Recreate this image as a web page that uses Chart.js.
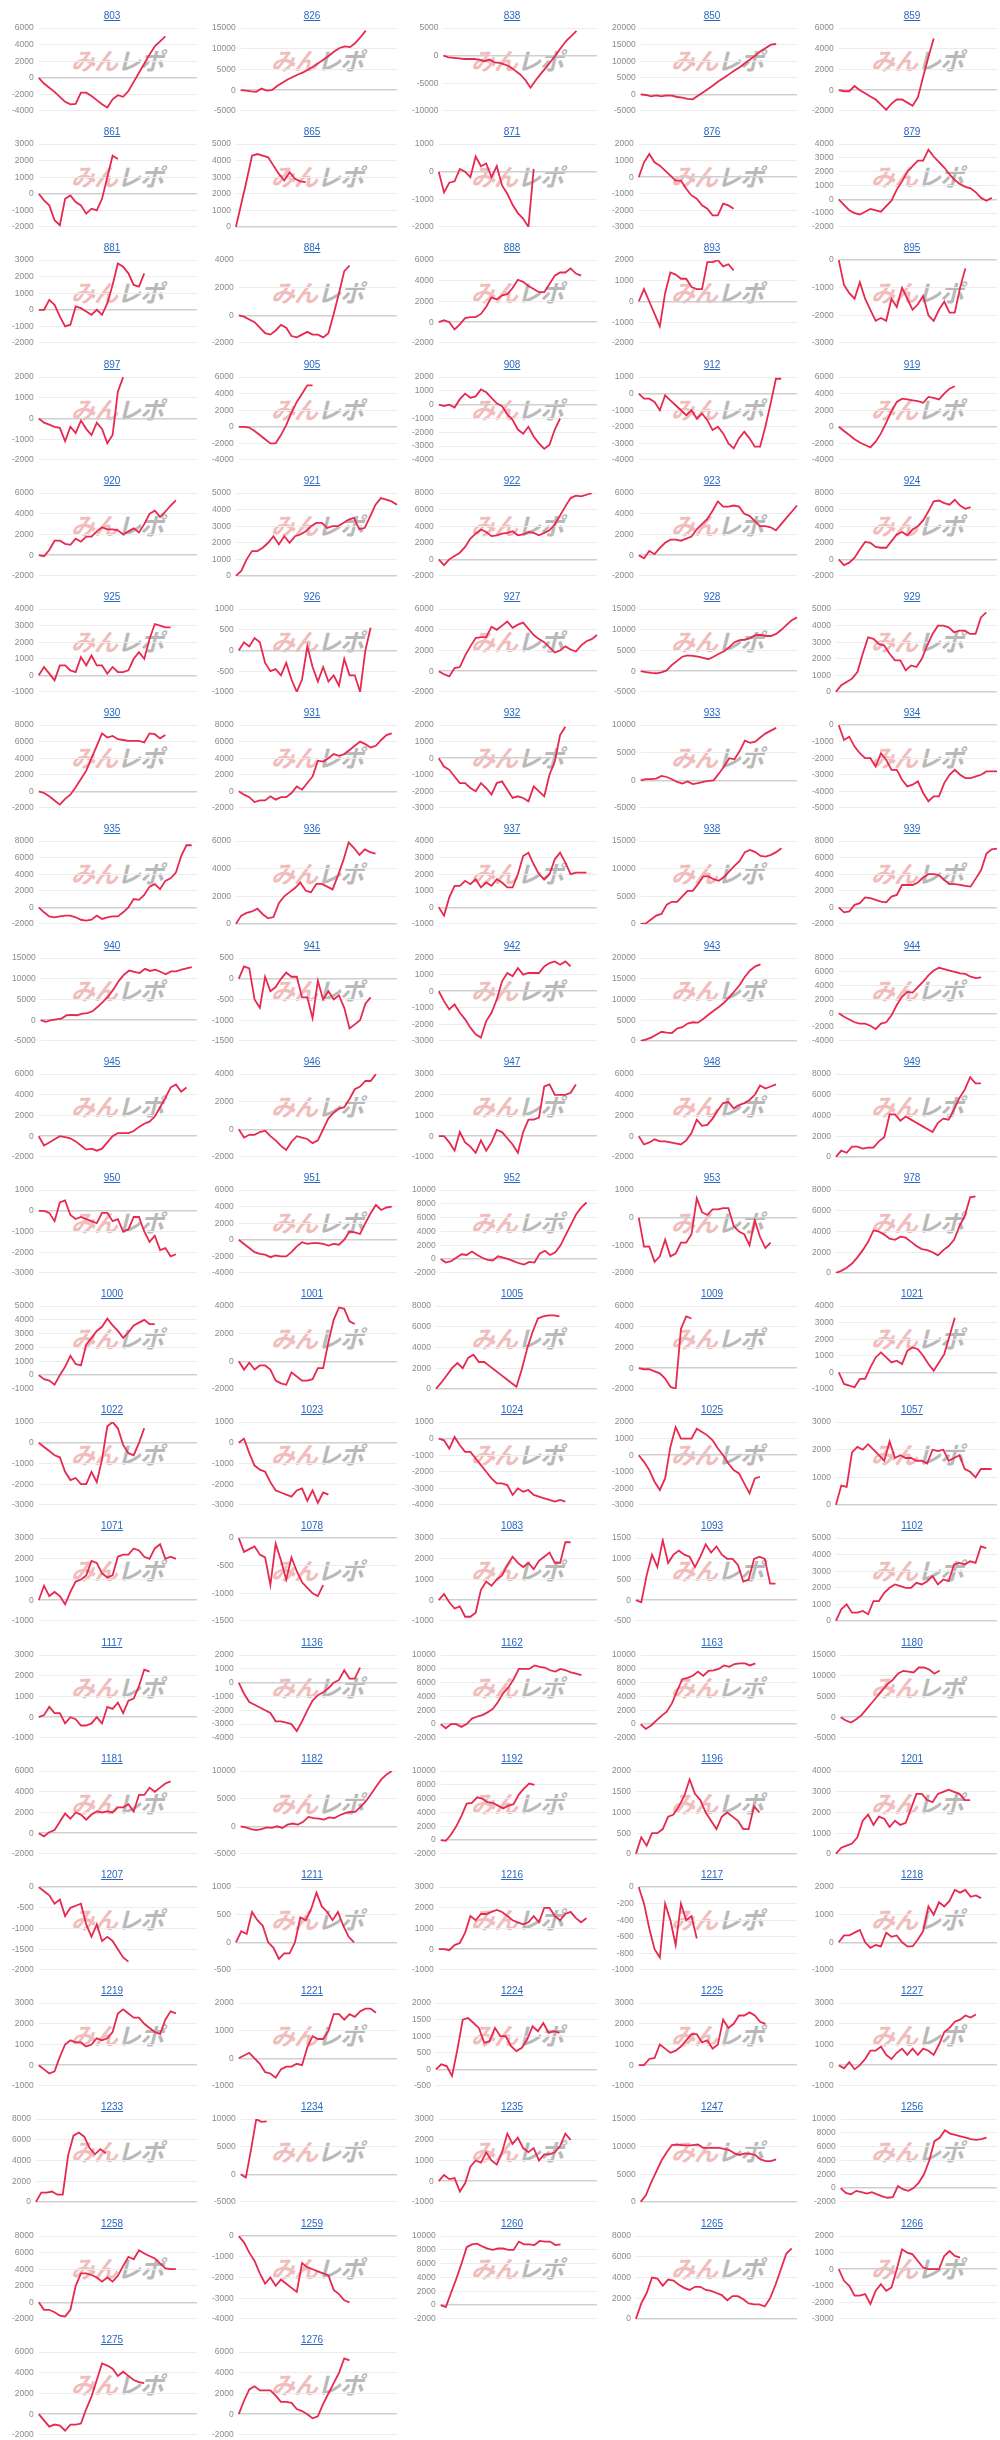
<!DOCTYPE html>
<html>
<head>
<meta charset="utf-8">
<script src="https://cdn.jsdelivr.net/npm/chart.js@4.4.0/dist/chart.umd.min.js"></script>
<style>
  body { margin: 0; background: #fff; font-family: "Liberation Sans", Arial, sans-serif; }
  #grid { display: grid; grid-template-columns: repeat(5, 200px); grid-auto-rows: calc(2440px / 21); width: 1000px; height: 2440px; overflow: hidden; }
  .cell { position: relative; }
  .cell a { position: absolute; top: 10px; left: 24px; right: 0; text-align: center; font-size: 10px; line-height: 12px; color: #2a67c0; text-decoration: underline; z-index: 2; }
  .mark { position: absolute; left: 71px; top: 47px; font: italic bold 24px "Noto Sans CJK JP", sans-serif; line-height: 26px; letter-spacing: -1px; white-space: nowrap; }
  .mark .p { color: #f1bcbc; }
  .mark .g { color: #b9b9b9; }
  .cell canvas { position: absolute; left: 0; top: 18px; z-index: 1; }
</style>
</head>
<body>
<div id="grid"></div>
<script>
// machine numbers, in reading order (5 per row)
const machines = [
  '803', '826', '838', '850', '859',
  '861', '865', '871', '876', '879',
  '881', '884', '888', '893', '895',
  '897', '905', '908', '912', '919',
  '920', '921', '922', '923', '924',
  '925', '926', '927', '928', '929',
  '930', '931', '932', '933', '934',
  '935', '936', '937', '938', '939',
  '940', '941', '942', '943', '944',
  '945', '946', '947', '948', '949',
  '950', '951', '952', '953', '978',
  '1000', '1001', '1005', '1009', '1021',
  '1022', '1023', '1024', '1025', '1057',
  '1071', '1078', '1083', '1093', '1102',
  '1117', '1136', '1162', '1163', '1180',
  '1181', '1182', '1192', '1196', '1201',
  '1207', '1211', '1216', '1217', '1218',
  '1219', '1221', '1224', '1225', '1227',
  '1233', '1234', '1235', '1247', '1256',
  '1258', '1259', '1260', '1265', '1266',
  '1275', '1276'
];

// y axis tick ranges per chart
const yMin = [
  -4000, -5000, -10000, -5000, -2000,
  -2000, 0, -2000, -3000, -2000,
  -2000, -2000, -2000, -2000, -3000,
  -2000, -4000, -4000, -4000, -4000,
  -2000, 0, -2000, -2000, -2000,
  -1000, -1000, -2000, -5000, 0,
  -2000, -2000, -3000, -5000, -5000,
  -2000, 0, -1000, 0, -2000,
  -5000, -1500, -3000, 0, -4000,
  -2000, -2000, -1000, -2000, 0,
  -3000, -4000, -2000, -2000, 0,
  -1000, -2000, 0, -2000, -1000,
  -3000, -3000, -4000, -3000, 0,
  -1000, -1500, -1000, -500, 0,
  -1000, -4000, -2000, -2000, -5000,
  -2000, -5000, -2000, 0, 0,
  -2000, -500, -1000, -1000, -1000,
  -1000, -1000, -500, -1000, -1000,
  0, -5000, -1000, 0, -2000,
  -2000, -4000, -2000, 0, -3000,
  -2000, -2000
];
const yMax = [
  6000, 15000, 5000, 20000, 6000,
  3000, 5000, 1000, 2000, 4000,
  3000, 4000, 6000, 2000, 0,
  2000, 6000, 2000, 1000, 6000,
  6000, 5000, 8000, 6000, 8000,
  4000, 1000, 6000, 15000, 5000,
  8000, 8000, 2000, 10000, 0,
  8000, 6000, 4000, 15000, 8000,
  15000, 500, 2000, 20000, 8000,
  6000, 4000, 3000, 6000, 8000,
  1000, 6000, 10000, 1000, 8000,
  5000, 4000, 8000, 6000, 4000,
  1000, 1000, 1000, 2000, 3000,
  3000, 0, 3000, 1500, 5000,
  3000, 2000, 10000, 10000, 15000,
  6000, 10000, 10000, 2000, 4000,
  0, 1000, 3000, 0, 2000,
  3000, 2000, 2000, 3000, 3000,
  8000, 10000, 3000, 15000, 10000,
  8000, 0, 10000, 8000, 2000,
  6000, 6000
];
const yStep = [
  2000, 5000, 5000, 5000, 2000,
  1000, 1000, 1000, 1000, 1000,
  1000, 2000, 2000, 1000, 1000,
  1000, 2000, 1000, 1000, 2000,
  2000, 1000, 2000, 2000, 2000,
  1000, 500, 2000, 5000, 1000,
  2000, 2000, 1000, 5000, 1000,
  2000, 2000, 1000, 5000, 2000,
  5000, 500, 1000, 5000, 2000,
  2000, 2000, 1000, 2000, 2000,
  1000, 2000, 2000, 1000, 2000,
  1000, 2000, 2000, 2000, 1000,
  1000, 1000, 1000, 1000, 1000,
  1000, 500, 1000, 500, 1000,
  1000, 1000, 2000, 2000, 5000,
  2000, 5000, 2000, 500, 1000,
  500, 500, 1000, 200, 1000,
  1000, 1000, 500, 1000, 1000,
  2000, 5000, 1000, 5000, 2000,
  2000, 1000, 2000, 2000, 1000,
  2000, 2000
];

// days of the month (x axis, hidden)
const days = ['1', '2', '3', '4', '5', '6', '7', '8', '9', '10', '11', '12', '13', '14', '15', '16',
  '17', '18', '19', '20', '21', '22', '23', '24', '25', '26', '27', '28', '29', '30', '31'];

// cumulative difference per machine
const d803 = [0, -700, -1200, -1700, -2300, -2900, -3200, -3150, -1800, -1800, -2200, -2700, -3200, -3600, -2600, -2100, -2300, -1600, -500, 600, 1700, 2800, 3800, 4400, 5000];
const d826 = [0, -100, -300, -400, 400, -100, 0, 1000, 1800, 2600, 3200, 3800, 4300, 5000, 5800, 6600, 7500, 8400, 9400, 10200, 10600, 10400, 11400, 12800, 14400];
const d838 = [0, -300, -400, -500, -600, -600, -600, -700, -1000, -700, -1200, -1300, -1600, -2000, -2700, -3400, -4400, -5800, -4500, -3300, -2200, -1000, 200, 1500, 2700, 3600, 4500];
const d850 = [0, -200, -600, -300, -600, -300, -400, -800, -1000, -1400, -1500, -400, 600, 1700, 2800, 4000, 5000, 6100, 7200, 8200, 9400, 10500, 11700, 13000, 14000, 15000, 15200];
const d859 = [0, -100, -100, 400, 0, -300, -600, -900, -1400, -1900, -1300, -900, -900, -1200, -1500, -700, 1300, 3200, 5000];
const d861 = [0, -400, -700, -1600, -1900, -300, -100, -500, -700, -1200, -900, -1000, -300, 1000, 2300, 2100];
const d865 = [0, 1400, 2800, 4300, 4400, 4300, 4200, 3700, 3200, 2800, 3300, 2900, 2750, 2700];
const d871 = [0, -750, -400, -350, 100, 0, -200, 550, 200, 300, -200, 200, -500, -800, -1200, -1500, -1700, -2000, 100];
const d876 = [0, 900, 1400, 900, 700, 400, 100, -200, -200, -700, -1100, -1300, -1700, -1900, -2300, -2300, -1600, -1700, -1900];
const d879 = [0, -400, -800, -1000, -1100, -900, -700, -800, -900, -500, -100, 700, 1300, 2000, 2400, 2800, 2800, 3600, 3100, 2700, 2300, 1800, 1400, 1100, 900, 800, 500, 100, -100, 100];
const d881 = [0, 0, 600, 300, -400, -1000, -900, 200, 100, -100, -300, 0, -300, 400, 1500, 2800, 2600, 2200, 1500, 1400, 2200];
const d884 = [0, -100, -300, -500, -900, -1300, -1400, -1100, -700, -900, -1500, -1600, -1400, -1200, -1400, -1400, -1600, -1300, 100, 1600, 3200, 3600];
const d888 = [0, 200, 0, -700, -200, 400, 500, 500, 800, 1500, 2400, 2200, 2600, 2700, 3300, 4100, 3900, 3500, 3200, 2900, 2900, 3700, 4500, 4800, 4800, 5200, 4700, 4500];
const d893 = [0, 600, 0, -600, -1200, 400, 1400, 1300, 1100, 1100, 700, 600, 600, 1900, 1900, 2000, 1700, 1800, 1500];
const d895 = [0, -900, -1200, -1400, -800, -1400, -1800, -2200, -2100, -2200, -1400, -1700, -1000, -1400, -1800, -1600, -1300, -2000, -2200, -1800, -1500, -1900, -1900, -1000, -300];
const d897 = [0, -200, -300, -400, -450, -1100, -400, -700, -100, -500, -800, -200, -500, -1200, -800, 1300, 2000];
const d905 = [0, 0, -100, -500, -1000, -1500, -2000, -2000, -1000, 200, 1700, 3000, 4000, 5000, 5000];
const d908 = [0, -100, 0, -200, 400, 800, 500, 600, 1100, 900, 500, 100, -100, -700, -1100, -1800, -2100, -1600, -2300, -2800, -3200, -2900, -1800, -1000];
const d912 = [0, -300, -300, -500, -1000, -100, -400, -700, -1000, -1300, -1000, -1500, -1200, -1600, -2200, -2000, -2400, -3000, -3300, -2700, -2300, -2700, -3200, -3200, -2000, -600, 900, 900];
const d919 = [0, -500, -1000, -1500, -1900, -2200, -2500, -1800, -800, 500, 1900, 3000, 3400, 3300, 3200, 3100, 2900, 3600, 3500, 3300, 4000, 4600, 4900];
const d920 = [0, -100, 500, 1400, 1400, 1100, 1000, 1600, 1300, 1800, 1800, 2300, 2700, 2500, 2500, 2400, 2000, 2300, 2600, 2200, 3000, 4000, 4300, 3700, 4200, 4800, 5300];
const d921 = [0, 300, 1000, 1500, 1500, 1700, 2000, 2400, 1900, 2400, 2000, 2400, 2500, 2700, 3000, 3200, 3200, 2900, 3000, 3000, 3200, 3400, 3500, 2800, 2900, 3600, 4300, 4700, 4600, 4500, 4300];
const d922 = [0, -700, 0, 400, 800, 1500, 2500, 3100, 3600, 3300, 2800, 2900, 3100, 3200, 3400, 2900, 3000, 3300, 3200, 2900, 3200, 3500, 4200, 5300, 6400, 7400, 7700, 7600, 7800, 8000];
const d923 = [0, -300, 400, 100, 700, 1200, 1500, 1500, 1400, 1600, 1800, 2500, 3000, 3500, 4300, 5200, 4700, 4700, 4800, 4700, 4000, 3800, 3300, 2800, 2800, 2700, 2400, 3000, 3600, 4200, 4800];
const d924 = [0, -700, -400, 200, 1200, 2100, 2000, 1500, 1400, 1400, 2200, 3000, 3300, 2900, 3600, 4000, 4700, 5800, 7000, 7100, 6800, 6600, 7200, 6500, 6100, 6300];
const d925 = [0, 500, 100, -300, 600, 600, 300, 200, 1100, 600, 1200, 600, 600, 100, 500, 200, 200, 300, 1000, 1400, 1000, 2200, 3100, 3000, 2900, 2900];
const d926 = [0, 200, 100, 300, 200, -300, -500, -450, -600, -300, -700, -1000, -700, 100, -400, -750, -400, -750, -600, -850, -200, -600, -600, -1000, 0, 550];
const d927 = [0, -300, -500, 300, 400, 1500, 2400, 3200, 3300, 3300, 4300, 4000, 4400, 4800, 4200, 4500, 4700, 4100, 3500, 3100, 2800, 2300, 1800, 2000, 2400, 2100, 1900, 2500, 2900, 3100, 3500];
const d928 = [0, -200, -400, -500, -300, 200, 1500, 2500, 3500, 3800, 3700, 3500, 3200, 2900, 3500, 4200, 4800, 5800, 7000, 7500, 7600, 8000, 8700, 8800, 8500, 8500, 9000, 10000, 11200, 12300, 13000];
const d929 = [0, 400, 600, 800, 1200, 2300, 3300, 3200, 2900, 2800, 2300, 1900, 1900, 1300, 1600, 1500, 2000, 2800, 3500, 4000, 4000, 3900, 3600, 3700, 3700, 3500, 3500, 4500, 4800];
const d930 = [0, -200, -600, -1100, -1600, -900, -400, 500, 1500, 2500, 4000, 5500, 7000, 6500, 6700, 6300, 6200, 6100, 6100, 6100, 5900, 7000, 6900, 6400, 6800];
const d931 = [0, -400, -700, -1300, -1100, -1100, -600, -1000, -700, -700, -200, 600, 200, 1000, 1800, 3700, 3600, 4000, 4500, 4300, 4500, 5000, 5500, 6000, 5700, 5300, 5500, 6200, 6800, 7000];
const d932 = [0, -500, -700, -1100, -1500, -1500, -1800, -2000, -1500, -1800, -2200, -1500, -1400, -1900, -2400, -2300, -2400, -2600, -1700, -2000, -2300, -1000, -200, 1400, 1900];
const d933 = [0, 200, 200, 300, 800, 600, 200, -300, -600, -200, -700, -500, -300, -100, 0, 1200, 2500, 4000, 3800, 5300, 7200, 6800, 7000, 7800, 8500, 9000, 9500];
const d934 = [0, -900, -700, -1300, -1700, -2000, -2000, -2500, -1700, -2100, -2700, -2700, -3300, -3700, -3600, -3400, -4100, -4600, -4300, -4300, -3500, -3000, -2700, -3000, -3200, -3200, -3100, -3000, -2800, -2800, -2800];
const d935 = [0, -600, -1100, -1200, -1100, -1000, -1000, -1200, -1500, -1600, -1500, -1000, -1400, -1200, -1100, -1100, -600, 0, 1000, 900, 1500, 2500, 2800, 2200, 3200, 3500, 4200, 6200, 7500, 7500];
const d936 = [0, 600, 800, 900, 1100, 700, 400, 500, 1500, 2000, 2300, 2600, 3000, 2400, 2300, 2900, 2900, 2700, 2500, 3500, 4600, 5900, 5500, 5000, 5400, 5200, 5100];
const d937 = [0, -500, 600, 1300, 1300, 1600, 1400, 1700, 1200, 1500, 1300, 1700, 1500, 1200, 1200, 2000, 3100, 3300, 2600, 2000, 1700, 2000, 2900, 3300, 2700, 2000, 2100, 2100, 2100];
const d938 = [0, 100, 800, 1500, 1800, 3500, 4000, 4000, 5000, 6000, 6000, 7200, 8600, 8600, 8100, 7800, 8500, 9500, 10500, 11400, 13000, 13400, 13000, 12300, 12200, 12500, 13000, 13700];
const d939 = [0, -600, -500, 300, 500, 1200, 1100, 900, 700, 600, 1300, 1500, 2700, 2700, 2700, 3000, 3600, 4000, 4000, 3900, 3300, 2800, 2800, 2700, 2600, 2500, 3500, 4500, 6500, 7000, 7100];
const d940 = [0, -400, 0, 200, 400, 1200, 1300, 1200, 1600, 1700, 2200, 3300, 4500, 5800, 7500, 9500, 11000, 12000, 11700, 11400, 12400, 11900, 12200, 11700, 11100, 11800, 11800, 12200, 12500, 12800];
const d941 = [0, 300, 250, -500, -700, 50, -300, -200, 0, 150, 50, 50, -450, -450, -950, -50, -500, -300, -500, -400, -700, -1200, -1100, -1000, -600, -450];
const d942 = [0, -600, -1100, -800, -1300, -1700, -2200, -2600, -2800, -1800, -1300, -500, 600, 1100, 900, 1400, 1000, 1100, 1100, 1100, 1500, 1700, 1800, 1600, 1800, 1500];
const d943 = [0, 300, 800, 1500, 2200, 2000, 1900, 3000, 3300, 4200, 4500, 4400, 5300, 6300, 7300, 8200, 9200, 10500, 12000, 13500, 15500, 17000, 18000, 18500];
const d944 = [0, -500, -900, -1300, -1500, -1500, -1800, -2300, -1500, -1300, -300, 1200, 2400, 3100, 3000, 3800, 4600, 5500, 6200, 6600, 6400, 6200, 6000, 5800, 5700, 5300, 5100, 5200];
const d945 = [0, -900, -600, -300, 0, -100, -200, -500, -900, -1300, -1200, -1400, -1200, -600, 0, 300, 300, 300, 500, 900, 1200, 1400, 1900, 2800, 3700, 4700, 5000, 4300, 4700];
const d946 = [0, -600, -400, -400, -200, -100, -500, -800, -1200, -1500, -900, -500, -600, -700, -1000, -800, 0, 800, 1200, 1500, 1600, 2200, 2900, 3100, 3500, 3500, 4000];
const d947 = [0, 0, -300, -700, 200, -300, -500, -800, -200, -700, -300, 300, 200, -100, -400, -800, 200, 800, 800, 900, 2400, 2500, 2000, 2000, 2000, 2100, 2500];
const d948 = [0, -800, -600, -300, -500, -500, -600, -700, -800, -400, 300, 1600, 1000, 1100, 1700, 2500, 3200, 3300, 2700, 3000, 3200, 3500, 4000, 4900, 4600, 4800, 5000];
const d949 = [0, 600, 400, 1000, 1000, 800, 900, 900, 1500, 1900, 4100, 4100, 3500, 3900, 3600, 3300, 3000, 2700, 2400, 3300, 3700, 3600, 4600, 5700, 6500, 7700, 7100, 7100];
const d950 = [0, 0, -100, -500, 400, 500, -200, -400, -300, -400, -500, -600, -100, -100, -500, -400, -1000, -900, -300, -300, -1000, -1500, -1200, -1900, -1800, -2200, -2100];
const d951 = [0, -500, -1000, -1500, -1700, -1800, -2100, -1900, -2000, -2000, -1500, -800, -300, -500, -400, -400, -500, -700, -500, -600, 0, 1000, 900, 700, 2000, 3200, 4200, 3600, 3900, 4000];
const d952 = [0, -500, -300, 200, 700, 600, 1100, 600, 200, -100, -200, 400, 200, 0, -300, -600, -800, -400, -500, 800, 1200, 600, 1000, 2000, 3500, 5000, 6500, 7500, 8200];
const d953 = [0, -1050, -1050, -1600, -1400, -800, -1400, -1300, -900, -900, -600, 700, 200, 100, 300, 300, 350, 350, -300, -500, -600, -1000, -100, -700, -1100, -900];
const d978 = [0, 200, 500, 900, 1500, 2200, 3000, 4100, 4000, 3700, 3300, 3200, 3500, 3400, 3000, 2600, 2300, 2200, 2000, 1700, 2200, 2600, 3200, 4500, 5500, 7300, 7400];
const d1000 = [0, -300, -400, -700, 0, 600, 1400, 800, 700, 2200, 2700, 3200, 3500, 4100, 3600, 3200, 2700, 3100, 3600, 3800, 4000, 3700, 3700];
const d1001 = [0, -600, -100, -600, -300, -300, -600, -1400, -1600, -1700, -800, -1100, -1400, -1400, -1300, -500, -500, 1400, 3000, 3900, 3800, 2900, 2700];
const d1005 = [0, 600, 1300, 2000, 2500, 2000, 3000, 3300, 2600, 2600, 2200, 1800, 1400, 1000, 600, 200, 1900, 3900, 5500, 6800, 7000, 7100, 7100, 7000];
const d1009 = [0, -100, -100, -300, -500, -1000, -1800, -2000, 3800, 5000, 4800];
const d1021 = [0, -700, -800, -900, -400, -400, 300, 900, 1200, 900, 600, 700, 500, 1300, 1500, 1400, 1000, 500, 100, 600, 1100, 2200, 3300];
const d1022 = [0, -200, -400, -600, -700, -1400, -1800, -1700, -2000, -2000, -1400, -1900, -800, 800, 1000, 700, -100, -500, -600, 0, 700];
const d1023 = [0, 200, -500, -1100, -1300, -1400, -1900, -2300, -2400, -2500, -2600, -2300, -2200, -2800, -2300, -2900, -2400, -2500];
const d1024 = [0, -100, -600, 100, -400, -800, -800, -1200, -1600, -2000, -2400, -2700, -2700, -2800, -3400, -3000, -3200, -3100, -3400, -3500, -3600, -3700, -3800, -3700, -3800];
const d1025 = [0, -400, -900, -1600, -2100, -1400, 500, 1700, 1000, 1000, 1000, 1600, 1400, 1200, 900, 400, 0, -500, -900, -1100, -1700, -2300, -1400, -1300];
const d1057 = [0, 700, 650, 1900, 2100, 2000, 2200, 2000, 1800, 1600, 2300, 1700, 1800, 1700, 1700, 1600, 1600, 1500, 2000, 1950, 2000, 1600, 1700, 1800, 1300, 1200, 1000, 1300, 1300, 1300];
const d1071 = [0, 700, 200, 400, 200, -200, 400, 900, 1000, 1200, 1900, 1800, 1300, 1100, 1200, 2100, 2200, 2200, 2500, 2400, 2100, 2000, 2500, 2700, 2000, 2100, 2000];
const d1078 = [0, -250, -200, -150, -300, -350, -850, -100, -400, -750, -350, -600, -800, -900, -1000, -1050, -850];
const d1083 = [0, 300, -100, -400, -300, -800, -800, -600, 500, 900, 700, 1000, 1200, 1700, 2100, 1800, 1600, 1800, 1500, 1900, 2100, 2300, 1800, 1800, 2800, 2800];
const d1093 = [0, -50, 600, 1100, 800, 1450, 900, 1100, 1200, 1100, 1050, 800, 1050, 1350, 1150, 1300, 1100, 1000, 1000, 850, 450, 500, 1000, 1050, 1000, 400, 400];
const d1102 = [0, 700, 1000, 500, 500, 600, 400, 1200, 1200, 1700, 2000, 2200, 2100, 2000, 2000, 2300, 2200, 2400, 2700, 2200, 2500, 2400, 3400, 3500, 3400, 3600, 3500, 4500, 4400];
const d1117 = [0, 100, 500, 200, 200, -300, 0, -100, -400, -400, -300, 0, -300, 500, 400, 700, 200, 800, 900, 1500, 2300, 2200];
const d1136 = [0, -800, -1400, -1600, -1800, -2000, -2200, -2800, -2800, -2900, -3000, -3500, -2800, -2000, -1300, -900, -700, -400, 0, 200, 900, 300, 300, 1100];
const d1162 = [0, -600, 0, 0, -400, 0, 800, 1100, 1300, 1700, 2200, 3200, 4500, 5300, 6500, 8000, 8000, 8000, 8500, 8300, 8200, 7800, 7600, 8000, 7800, 7500, 7300, 7100];
const d1163 = [0, -700, -200, 500, 1200, 1800, 3000, 4800, 6500, 6700, 7000, 7600, 7000, 7700, 7800, 8000, 8500, 8300, 8700, 8800, 8800, 8500, 8800];
const d1180 = [0, -800, -1300, -500, 500, 2000, 3500, 5000, 6500, 8000, 9000, 10500, 11200, 11000, 10800, 12000, 12000, 11500, 10500, 11300];
const d1181 = [0, -300, 100, 300, 1100, 1900, 1400, 2000, 1800, 1300, 1800, 2100, 2000, 2100, 2000, 2500, 2500, 2800, 2100, 3700, 3700, 4400, 4000, 4400, 4800, 5000];
const d1182 = [0, -200, -500, -700, -500, -200, -300, 0, -300, 300, 500, 300, 800, 1700, 1500, 1400, 1200, 1600, 1500, 2000, 2400, 2600, 2600, 3500, 4500, 5800, 7200, 8500, 9400, 10000];
const d1192 = [0, -100, 800, 2000, 3500, 5300, 5400, 6200, 6000, 5500, 5400, 5000, 4600, 5000, 5200, 6600, 7500, 8200, 8000];
const d1196 = [0, 400, 200, 500, 500, 600, 900, 950, 1150, 1400, 1800, 1450, 1300, 1000, 800, 600, 900, 1000, 900, 800, 600, 600, 1150, 1000];
const d1201 = [0, 300, 400, 500, 800, 1600, 1900, 1400, 1800, 1700, 1300, 1600, 1400, 1500, 2200, 2900, 2900, 2600, 2500, 2900, 3000, 3100, 3000, 2900, 2600, 2600];
const d1207 = [0, -100, -200, -400, -300, -700, -500, -450, -400, -900, -1200, -900, -1300, -1200, -1300, -1500, -1700, -1800];
const d1211 = [0, 200, 150, 550, 400, 300, 0, -100, -300, -200, -200, 0, 450, 400, 600, 900, 650, 550, 400, 550, 300, 100, 0];
const d1216 = [0, 0, -50, 200, 300, 800, 1600, 1400, 1700, 1700, 1800, 1900, 1800, 1600, 1400, 1300, 1200, 1300, 1600, 1300, 2000, 2000, 1600, 1400, 1700, 1800, 1500, 1300, 1500];
const d1217 = [0, -200, -500, -750, -850, -200, -400, -700, -200, -400, -350, -620];
const d1218 = [0, 250, 250, 350, 450, 0, -200, -100, -150, 350, 200, 250, 0, -150, -150, 100, 400, 1300, 1000, 1450, 1300, 1500, 1900, 1800, 1900, 1650, 1700, 1600];
const d1219 = [0, -200, -400, -300, 400, 1000, 1200, 1100, 1100, 900, 1000, 1300, 1200, 1300, 1600, 2500, 2700, 2500, 2300, 2300, 2000, 1800, 1600, 1500, 2200, 2600, 2500];
const d1221 = [0, 100, 200, 0, -200, -500, -550, -700, -400, -300, -300, -200, -250, 400, 800, 700, 700, 1000, 1600, 1600, 1400, 1600, 1500, 1700, 1800, 1800, 1650];
const d1224 = [0, 150, 100, -200, 600, 1500, 1550, 1400, 1250, 800, 850, 1250, 1000, 1000, 700, 550, 650, 900, 1300, 1150, 1400, 1100, 1150, 1100];
const d1225 = [0, 0, 300, 350, 1000, 800, 600, 700, 900, 1200, 1500, 1500, 1100, 1200, 800, 1000, 2200, 1800, 2000, 2400, 2400, 2550, 2400, 2100, 2000];
const d1227 = [0, -150, 150, -200, 0, 300, 700, 700, 900, 500, 300, 600, 800, 500, 800, 500, 800, 700, 500, 1000, 1600, 1800, 2100, 2200, 2400, 2300, 2450];
const d1233 = [0, 900, 900, 1000, 700, 700, 4500, 6400, 6700, 6300, 5200, 4600, 5100, 4700];
const d1234 = [0, -600, 4500, 10000, 9500, 9600];
const d1235 = [0, 300, 100, 150, -500, -100, 700, 1000, 900, 1400, 1000, 800, 1400, 2300, 1800, 2100, 1600, 1400, 1600, 1000, 1300, 1300, 1400, 1700, 2300, 2000];
const d1247 = [0, 1200, 3500, 5500, 7500, 9000, 10300, 10400, 10300, 10200, 10300, 10400, 9800, 9800, 9800, 9800, 9600, 9400, 8800, 8500, 8800, 8700, 8500, 7700, 7400, 7400, 7700];
const d1256 = [0, -700, -900, -400, -600, -800, -600, -900, -1200, -1400, -1300, 300, -200, -400, 0, 800, 2000, 4000, 6800, 7300, 8400, 7900, 7700, 7500, 7300, 7100, 7000, 7100, 7300];
const d1258 = [0, -900, -900, -1200, -1600, -1700, -900, 2000, 3500, 3500, 3300, 3000, 2500, 3000, 2500, 3200, 4400, 5500, 5200, 6300, 5900, 5600, 5300, 4700, 4100, 4000, 4000];
const d1259 = [0, -300, -800, -1200, -1800, -2300, -2000, -2400, -2100, -2300, -2500, -2700, -1300, -1500, -1600, -1700, -1800, -1900, -2600, -2800, -3100, -3200];
const d1260 = [0, -300, 1800, 3800, 6000, 8400, 8800, 8900, 8500, 8200, 8000, 8200, 8200, 8000, 8000, 9200, 8800, 8800, 8700, 9300, 9200, 9200, 8700, 8800];
const d1265 = [0, 1500, 2500, 4000, 3900, 3200, 3800, 3700, 3300, 3000, 2800, 3100, 3100, 2800, 2700, 2500, 2300, 1800, 2200, 2200, 1900, 1500, 1400, 1400, 1200, 2000, 3300, 4800, 6300, 6800];
const d1266 = [0, -700, -1000, -1600, -1600, -1500, -2100, -1300, -900, -1300, -1100, 0, 1200, 1000, 900, 500, 100, 0, 0, 0, 800, 1100, 800, 700];
const d1275 = [0, -600, -1200, -1000, -1100, -1600, -1000, -1000, -900, 500, 1700, 3300, 4900, 4700, 4400, 3700, 4100, 3700, 3300, 3100, 3000];
const d1276 = [0, 1300, 2400, 2700, 2300, 2300, 2300, 1800, 1200, 1200, 1100, 500, 300, 0, -400, -200, 1000, 2000, 3000, 4000, 5400, 5200];

const series = [
  d803, d826, d838, d850, d859,
  d861, d865, d871, d876, d879,
  d881, d884, d888, d893, d895,
  d897, d905, d908, d912, d919,
  d920, d921, d922, d923, d924,
  d925, d926, d927, d928, d929,
  d930, d931, d932, d933, d934,
  d935, d936, d937, d938, d939,
  d940, d941, d942, d943, d944,
  d945, d946, d947, d948, d949,
  d950, d951, d952, d953, d978,
  d1000, d1001, d1005, d1009, d1021,
  d1022, d1023, d1024, d1025, d1057,
  d1071, d1078, d1083, d1093, d1102,
  d1117, d1136, d1162, d1163, d1180,
  d1181, d1182, d1192, d1196, d1201,
  d1207, d1211, d1216, d1217, d1218,
  d1219, d1221, d1224, d1225, d1227,
  d1233, d1234, d1235, d1247, d1256,
  d1258, d1259, d1260, d1265, d1266,
  d1275, d1276
];

const grid = document.getElementById('grid');

machines.forEach((name, i) => {
  const cell = document.createElement('div');
  cell.className = 'cell';
  cell.innerHTML = '<a href="#">' + name + '</a>' +
    '<div class="mark"><span class="p">みん</span><span class="g">レポ</span></div>' +
    '<canvas width="200" height="103"></canvas>';
  grid.appendChild(cell);

  const ctx = cell.querySelector('canvas').getContext('2d');
  new Chart(ctx, {
    type: 'line',
    data: {
      labels: days,
      datasets: [{
        data: series[i],
        borderColor: '#e8294f',
        borderWidth: 1.8,
        pointRadius: 0,
        tension: 0,
        fill: false
      }]
    },
    options: {
      responsive: false,
      animation: false,
      devicePixelRatio: 1,
      events: [],
      layout: {
        padding: { left: 7, right: 3, top: 0, bottom: 0 }
      },
      plugins: {
        legend: { display: false },
        tooltip: { enabled: false }
      },
      scales: {
        x: { display: false },
        y: {
          min: yMin[i],
          max: yMax[i],
          border: { display: false },
          grid: {
            drawTicks: false,
            color: c => (c.tick && c.tick.value === 0) ? '#cfcfcf' : '#ececec',
            lineWidth: c => (c.tick && c.tick.value === 0) ? 1.6 : 1
          },
          ticks: {
            stepSize: yStep[i],
            padding: 5,
            color: '#8a8a8a',
            font: { size: 8.5, family: '"Liberation Sans", Arial, sans-serif' },
            callback: v => String(v)
          }
        }
      }
    }
  });
});
</script>
</body>
</html>
